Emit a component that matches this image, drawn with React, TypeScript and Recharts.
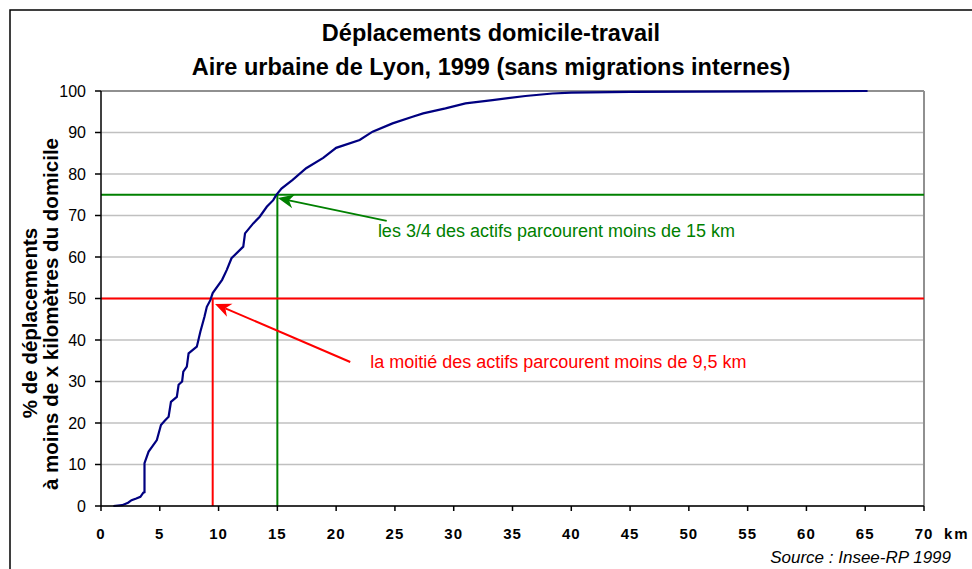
import React from 'react';
import { LineChart, Line, XAxis, YAxis, CartesianGrid, ReferenceLine, ReferenceDot } from 'recharts';

// Cumulative share of home-work trips (%) by distance (km)
const distanceKm = [
  1.05, 1.8, 2.3, 2.6, 3.0, 3.35, 3.6, 3.7, 3.7, 4.05, 4.4, 4.75, 5.1, 5.4, 5.75, 5.95,
  6.45, 6.6, 6.9, 7.0, 7.3, 7.45, 8.15, 8.45, 8.8, 9.0, 9.3, 9.5, 10.3, 10.7, 11.1,
  12.1, 12.25, 12.95, 13.5, 14.1, 14.65, 14.9, 15.35, 16.3, 17.45, 18.9, 20.0, 22.0,
  23.1, 24.8, 26.5, 27.4, 29.3, 31.0, 33.3, 36.1, 38.4, 40.0, 45.0, 65.2,
];
const sharePct = [
  0, 0.2, 0.8, 1.4, 1.8, 2.2, 3.2, 3.3, 10.3, 13.1, 14.5, 15.9, 19.5, 20.5, 21.5, 25.1,
  26.3, 29.2, 30.0, 32.4, 33.6, 36.8, 38.4, 42.0, 45.6, 48.0, 49.6, 51.3, 54.5, 56.9, 59.7,
  62.5, 65.7, 68.1, 69.7, 72.1, 73.7, 74.9, 76.5, 78.6, 81.4, 83.9, 86.3, 88.2,
  90.2, 92.2, 93.8, 94.6, 95.8, 97.0, 97.8, 98.8, 99.4, 99.6, 99.8, 100,
];

const xTicks = [0, 5, 10, 15, 20, 25, 30, 35, 40, 45, 50, 55, 60, 65, 70];
const yTicks = [0, 10, 20, 30, 40, 50, 60, 70, 80, 90, 100];

const titleLines = ['Déplacements domicile-travail', 'Aire urbaine de Lyon, 1999 (sans migrations internes)'];
const yAxisTitle = ['% de déplacements', 'à moins de x kilomètres du domicile'];
const xUnit = 'km';
const sourceText = 'Source : Insee-RP 1999';

const medianKm = 9.5;
const medianPct = 50;
const quartileKm = 15;
const quartilePct = 75;
const medianNote = 'la moitié des actifs parcourent moins de 9,5 km';
const quartileNote = 'les 3/4 des actifs parcourent moins de 15 km';
const medianArrow = [{ x: 21.2, y: 34.7 }, { x: 9.7, y: 48.7 }];
const quartileArrow = [{ x: 24.3, y: 68.7 }, { x: 15.05, y: 74.2 }];
const medianNoteAt = { x: 22.9, y: 34.7 };
const quartileNoteAt = { x: 23.55, y: 66.3 };

const FONT = 'Arial, "Liberation Sans", sans-serif';
const RED = '#ff0000';
const GREEN = '#008000';

const data = distanceKm.map((km, i) => ({ km, pct: sharePct[i] }));

const arrowShape = (color: string) => (p: any) => {
  const { x1, y1, x2, y2 } = p;
  const a = Math.atan2(y2 - y1, x2 - x1);
  const L = 16;
  const W = 7;
  const c = Math.cos(a);
  const s = Math.sin(a);
  const bx = x2 - L * c;
  const by = y2 - L * s;
  const nx = x2 - L * 0.7 * c;
  const ny = y2 - L * 0.7 * s;
  const pts = `${x2},${y2} ${bx + W * s},${by - W * c} ${nx},${ny} ${bx - W * s},${by + W * c}`;
  return (
    <g>
      <line x1={x1} y1={y1} x2={nx} y2={ny} stroke={color} strokeWidth={2} />
      <polygon points={pts} fill={color} />
    </g>
  );
};

const noteShape = (text: string, color: string) => (p: any) => (
  <text x={p.cx} y={p.cy} dy={6} textAnchor="start" fill={color} fontSize={18} fontFamily={FONT}>
    {text}
  </text>
);

const XTick = (p: any) => {
  const { x, y, payload } = p;
  const v = payload.value;
  return (
    <g>
      <text x={x} y={y} dy={26} textAnchor="middle" fontSize={15} fontWeight="bold" letterSpacing={1} fill="#000" fontFamily={FONT}>
        {v}
      </text>
      {v === 70 && (
        <text x={x + 20} y={y} dy={26} textAnchor="start" fontSize={15} fontWeight="bold" letterSpacing={2} fill="#000" fontFamily={FONT}>
          {xUnit}
        </text>
      )}
    </g>
  );
};

export default function App() {
  return (
    <div style={{ position: 'absolute', left: 0, top: 0, width: 972, height: 569, background: '#fff' }}>
      <LineChart
        width={972}
        height={569}
        data={data}
        margin={{ top: 91, right: 48, bottom: 23, left: 0 }}
        style={{ fontFamily: FONT }}
      >
        <CartesianGrid horizontal vertical={false} stroke="#c0c0c0" strokeWidth={1.5} />
        <XAxis
          dataKey="km"
          type="number"
          domain={[0, 70]}
          ticks={xTicks}
          interval={0}
          height={40}
          tickSize={5}
          tickMargin={2}
          axisLine={{ stroke: '#000', strokeWidth: 1.5 }}
          tickLine={{ stroke: '#000', strokeWidth: 1.5 }}
          tick={<XTick />}
        />
        <YAxis
          type="number"
          domain={[0, 100]}
          ticks={yTicks}
          interval={0}
          width={101}
          tickSize={6}
          tickMargin={9}
          axisLine={{ stroke: '#000', strokeWidth: 1.5 }}
          tickLine={{ stroke: '#000', strokeWidth: 1.5 }}
          tick={{ fill: '#000', fontSize: 16, fontFamily: FONT }}
        />
        <ReferenceLine y={100} stroke="#909090" strokeWidth={2} />
        <ReferenceLine x={70} stroke="#909090" strokeWidth={2} />
        <ReferenceLine segment={[{ x: 0, y: quartilePct }, { x: 70, y: quartilePct }]} stroke={GREEN} strokeWidth={2} />
        <ReferenceLine segment={[{ x: quartileKm, y: 0 }, { x: quartileKm, y: quartilePct }]} stroke={GREEN} strokeWidth={2} />
        <ReferenceLine segment={[{ x: 0, y: medianPct }, { x: 70, y: medianPct }]} stroke={RED} strokeWidth={2} />
        <ReferenceLine segment={[{ x: medianKm, y: 0 }, { x: medianKm, y: medianPct }]} stroke={RED} strokeWidth={2} />
        <Line
          type="linear"
          dataKey="pct"
          stroke="#000080"
          strokeWidth={2.2}
          dot={false}
          isAnimationActive={false}
        />
        <ReferenceLine segment={quartileArrow} shape={arrowShape(GREEN)} />
        <ReferenceLine segment={medianArrow} shape={arrowShape(RED)} />
        <ReferenceDot x={quartileNoteAt.x} y={quartileNoteAt.y} r={0} shape={noteShape(quartileNote, GREEN)} />
        <ReferenceDot x={medianNoteAt.x} y={medianNoteAt.y} r={0} shape={noteShape(medianNote, RED)} />
      </LineChart>
      <svg
        width={972}
        height={569}
        style={{ position: 'absolute', left: 0, top: 0, pointerEvents: 'none', fontFamily: FONT }}
      >
        <rect x={10} y={10} width={1000} height={600} fill="none" stroke="#000" strokeWidth={1.5} />
        <text x={491} y={41} textAnchor="middle" fontSize={23.5} fontWeight="bold" fill="#000">{titleLines[0]}</text>
        <text x={491} y={75} textAnchor="middle" fontSize={23.5} fontWeight="bold" fill="#000">{titleLines[1]}</text>
        <text transform="translate(29,323) rotate(-90)" textAnchor="middle" dominantBaseline="central" fontSize={20.5} fontWeight="bold" fill="#000">{yAxisTitle[0]}</text>
        <text transform="translate(50,314) rotate(-90)" textAnchor="middle" dominantBaseline="central" fontSize={20.5} fontWeight="bold" fill="#000">{yAxisTitle[1]}</text>
        <text x={951} y={563} textAnchor="end" fontSize={17} fontStyle="italic" fill="#000">{sourceText}</text>
      </svg>
    </div>
  );
}
